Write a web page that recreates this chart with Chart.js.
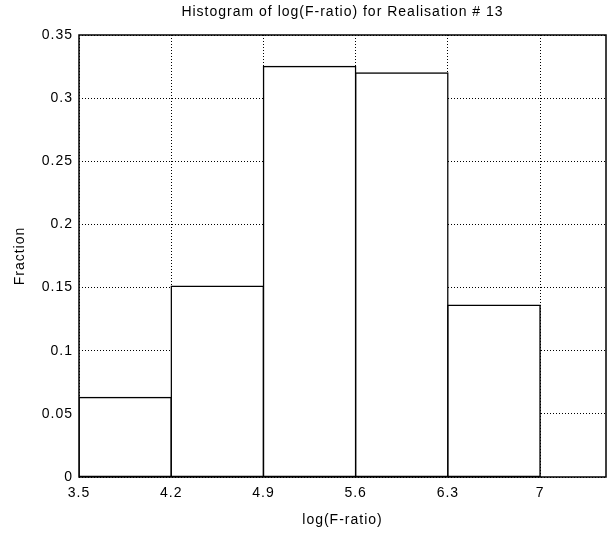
<!DOCTYPE html>
<html>
<head>
<meta charset="utf-8">
<script src="https://cdn.jsdelivr.net/npm/chart.js@4"></script>
<style>
  html, body { margin: 0; padding: 0; background: #fff; }
  #wrap { width: 608px; height: 533px; }
</style>
</head>
<body>
<div id="wrap"><canvas id="histChart" width="608" height="533"></canvas></div>
<script>
// bin centres (bin width 0.7) and fraction in each bin
const binCentres = [3.85, 4.55, 5.25, 5.95, 6.65]
const fractions = [0.063, 0.151, 0.325, 0.320, 0.136]
const xTicks = [3.5, 4.2, 4.9, 5.6, 6.3, 7.0]
const yTicks = [0, 0.05, 0.1, 0.15, 0.2, 0.25, 0.3, 0.35]

const font = 'Liberation Sans, Arial, Helvetica, sans-serif'

const boxPlugin = {
    id: 'box',
    beforeDraw(chart) {
        chart.ctx.letterSpacing = '1px'
    },
    afterDatasetsDraw(chart) {
        let a = chart.chartArea, ctx = chart.ctx
        ctx.save()
        ctx.strokeStyle = '#000'
        ctx.lineWidth = 1.5
        ctx.strokeRect(a.left, a.top, a.right - a.left, a.bottom - a.top)
        ctx.restore()
    }
}

let points = binCentres.map((x, i) => ({ x: x, y: fractions[i] }))

new Chart(document.getElementById('histChart'), {
    type: 'bar',
    data: {
        datasets: [{
            data: points,
            backgroundColor: '#fff',
            borderColor: '#000',
            borderWidth: 1.5,
            borderSkipped: false,
            inflateAmount: 0.75,
            barPercentage: 1,
            categoryPercentage: 1
        }]
    },
    options: {
        responsive: false,
        animation: false,
        layout: { padding: { left: 0, right: 2, top: 0, bottom: 0 } },
        plugins: {
            legend: { display: false },
            tooltip: { enabled: false },
            title: {
                display: true,
                fullSize: false,
                text: 'Histogram of log(F-ratio) for Realisation # 13',
                color: '#000',
                font: { family: font, size: 14, weight: 'normal', lineHeight: 1.2 },
                padding: { top: 4, bottom: 14.2 }
            }
        },
        scales: {
            x: {
                type: 'linear',
                offset: false,
                min: 3.5,
                max: 7.5,
                afterBuildTicks: s => { s.ticks = xTicks.map(v => ({ value: v })) },
                afterFit: s => { s.height = 56 },
                ticks: {
                    color: '#000',
                    font: { family: font, size: 14 },
                    padding: 8,
                    maxRotation: 0,
                    callback: v => String(Math.round(v * 10) / 10)
                },
                grid: { offset: false, color: '#000', lineWidth: 1, tickLength: 0, drawTicks: false },
                border: { display: false, dash: [1, 2] },
                title: {
                    display: true,
                    text: 'log(F-ratio)',
                    color: '#000',
                    font: { family: font, size: 14 },
                    padding: { top: 0 }
                }
            },
            y: {
                min: 0,
                max: 0.35,
                afterBuildTicks: s => { s.ticks = yTicks.map(v => ({ value: v })) },
                afterFit: s => { s.width = 79 },
                ticks: {
                    color: '#000',
                    font: { family: font, size: 14 },
                    padding: 6,
                    callback: v => String(Math.round(v * 100) / 100)
                },
                grid: { color: '#000', lineWidth: 1, tickLength: 0, drawTicks: false },
                border: { display: false, dash: [1, 2] },
                title: {
                    display: true,
                    text: 'Fraction',
                    color: '#000',
                    font: { family: font, size: 14 },
                    padding: { top: 12, bottom: 0 }
                }
            }
        }
    },
    plugins: [boxPlugin]
})
</script>
</body>
</html>
